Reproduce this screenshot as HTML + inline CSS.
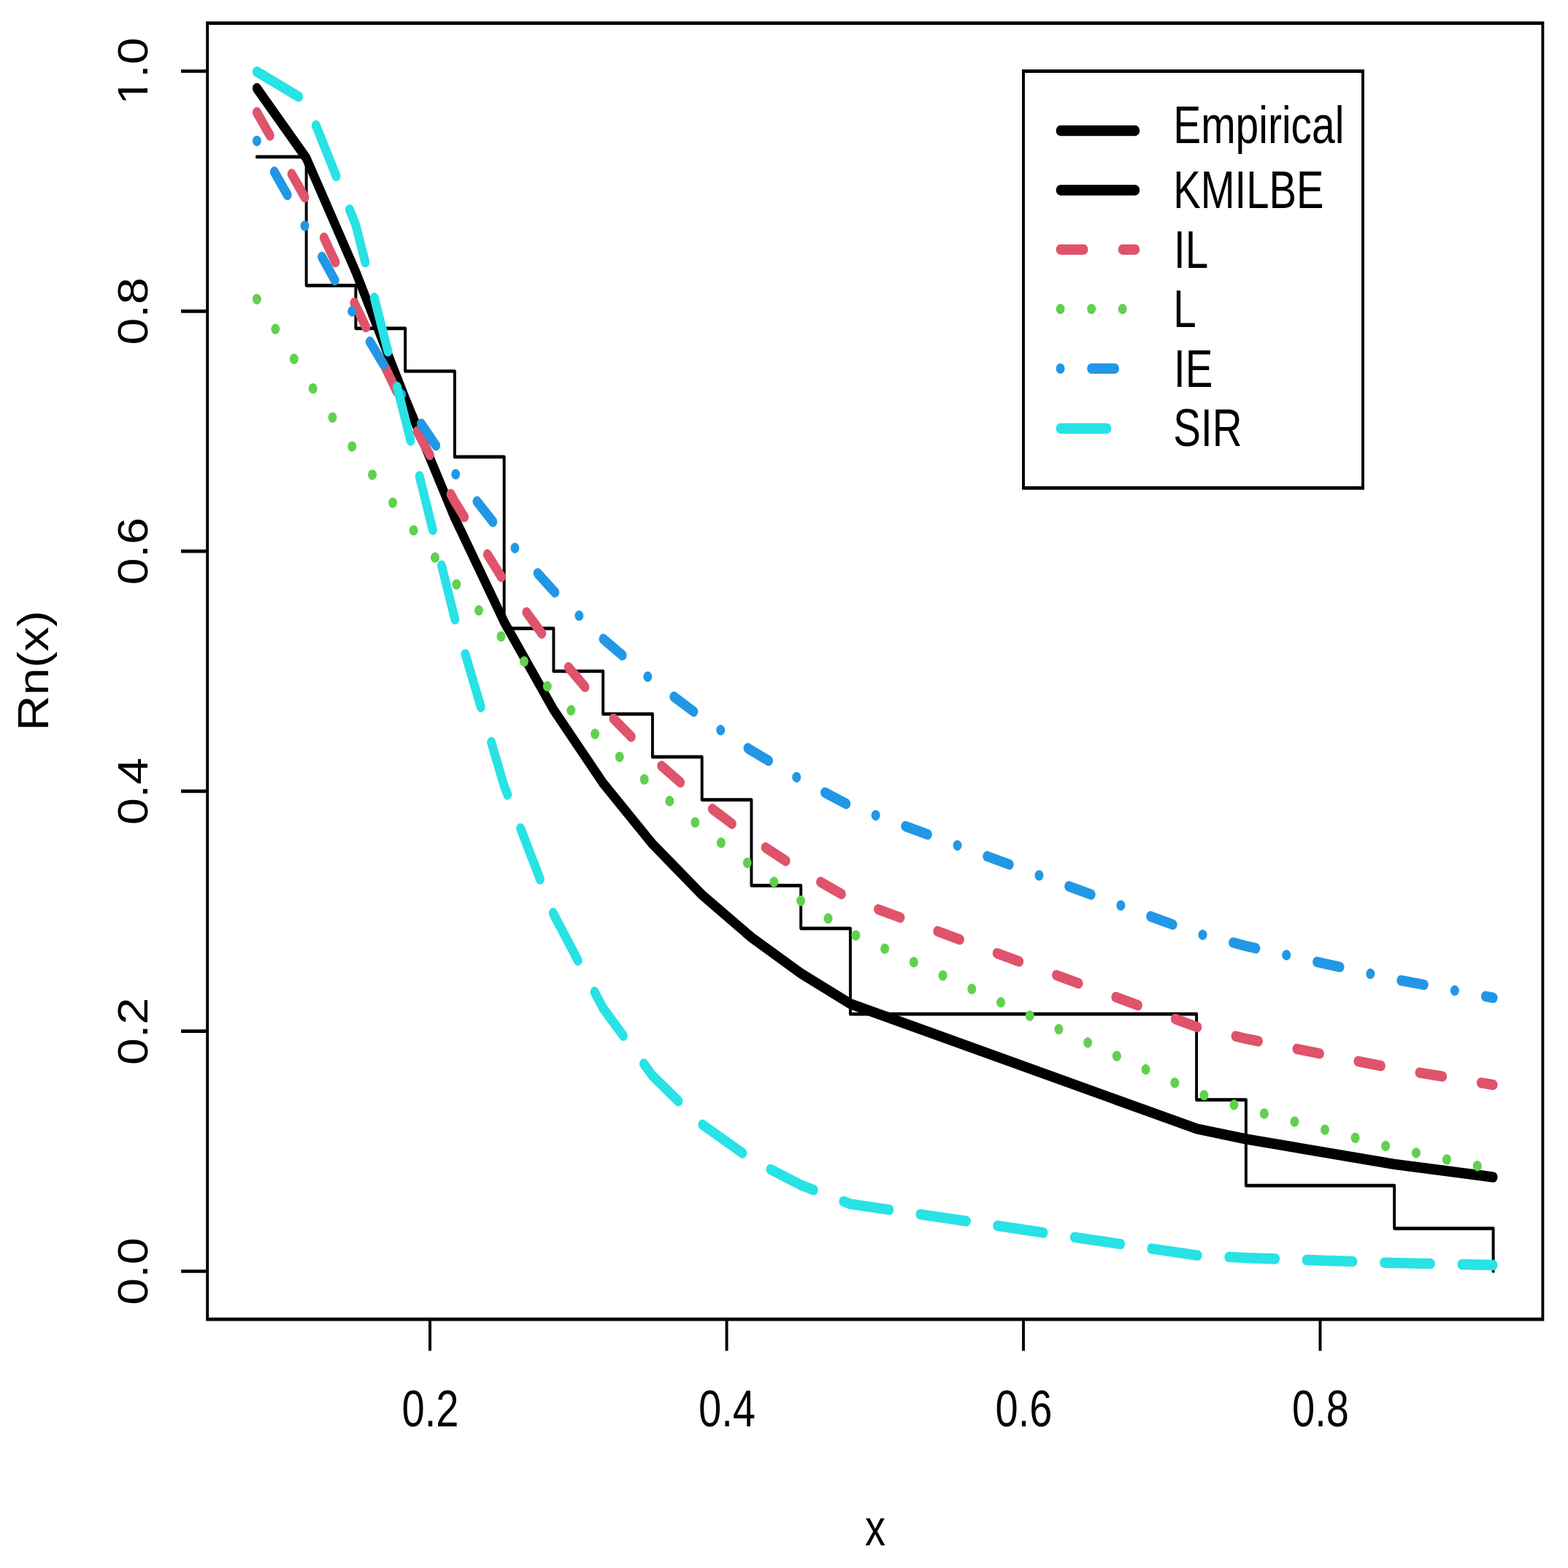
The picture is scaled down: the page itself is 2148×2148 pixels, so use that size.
<!DOCTYPE html><html><head><meta charset="utf-8"><title>Rn(x) plot</title><style>html,body{margin:0;padding:0;background:#fff;}svg{display:block;}</style></head><body>
<svg width="2148" height="2148" viewBox="0 0 2148 2148">
<rect width="2148" height="2148" fill="#fff"/>
<g transform="scale(1.193333,1.432000)">
<polyline points="294.87,150.09 351.64,150.09 351.64,273.09 408.41,273.09 408.41,314.1 465.19,314.1 465.19,355.1 521.96,355.1 521.96,437.1 578.74,437.1 578.74,601.11 635.51,601.11 635.51,642.11 692.28,642.11 692.28,683.11 749.06,683.11 749.06,724.11 805.83,724.11 805.83,765.11 862.6,765.11 862.6,847.12 919.38,847.12 919.38,888.12 976.15,888.12 976.15,970.12 1373.57,970.12 1373.57,1052.12 1430.34,1052.12 1430.34,1134.13 1600.66,1134.13 1600.66,1175.13 1714.21,1175.13 1714.21,1216.13" fill="none" stroke="#000" stroke-width="3.3" stroke-linejoin="round" stroke-linecap="round"/>
<rect x="238.09" y="22.16" width="1532.89" height="1239.89" fill="none" stroke="#000" stroke-width="3.3"/>
<line x1="493.58" y1="1262.05" x2="493.58" y2="1292.25" stroke="#000" stroke-width="3.3"/>
<line x1="834.22" y1="1262.05" x2="834.22" y2="1292.25" stroke="#000" stroke-width="3.3"/>
<line x1="1174.86" y1="1262.05" x2="1174.86" y2="1292.25" stroke="#000" stroke-width="3.3"/>
<line x1="1515.5" y1="1262.05" x2="1515.5" y2="1292.25" stroke="#000" stroke-width="3.3"/>
<line x1="207.89" y1="1216.13" x2="238.09" y2="1216.13" stroke="#000" stroke-width="3.3"/>
<line x1="207.89" y1="986.52" x2="238.09" y2="986.52" stroke="#000" stroke-width="3.3"/>
<line x1="207.89" y1="756.91" x2="238.09" y2="756.91" stroke="#000" stroke-width="3.3"/>
<line x1="207.89" y1="527.3" x2="238.09" y2="527.3" stroke="#000" stroke-width="3.3"/>
<line x1="207.89" y1="297.7" x2="238.09" y2="297.7" stroke="#000" stroke-width="3.3"/>
<line x1="207.89" y1="68.09" x2="238.09" y2="68.09" stroke="#000" stroke-width="3.3"/>
<polyline points="294.87,84.5 351.64,151.32 408.41,260.1 465.19,381.21 521.96,495.3 578.74,594.91 635.51,679.02 692.28,749.11 749.06,807.39 805.83,855.98 862.6,896.71 919.38,931.08 976.15,960.28 1373.57,1079.74 1430.34,1089.68 1600.66,1113.72 1714.21,1126.11" fill="none" stroke="#000" stroke-width="10" stroke-linejoin="round" stroke-linecap="round"/>
<polyline points="294.87,107.46 351.64,191.24 408.41,292.61 465.19,391.31 521.96,479.66 578.74,556.15 635.51,621.59 692.28,677.46 749.06,725.28 805.83,766.41 862.6,802 919.38,832.98 976.15,860.12 1373.57,982.34 1430.34,993.67 1600.66,1022.24 1714.21,1037.74" fill="none" stroke="#DF536B" stroke-width="10" stroke-dasharray="26.754 44.590" stroke-linejoin="round" stroke-linecap="round"/>
<polyline points="294.87,286.16 351.64,362.2 408.41,432.45 465.19,497.3 521.96,557.11 578.74,612.24 635.51,663 692.28,709.73 749.06,752.7 805.83,792.2 862.6,828.48 919.38,861.79 976.15,892.35 1373.57,1045.49 1430.34,1060.59 1600.66,1098.52 1714.21,1118.64" fill="none" stroke="#61D04F" stroke-width="10" stroke-dasharray="0.001 35.671" stroke-linejoin="round" stroke-linecap="round"/>
<polyline points="294.87,134.83 351.64,218.55 408.41,304.43 465.19,383.11 521.96,452.46 578.74,512.83 635.51,565.32 692.28,611.11 749.06,651.24 805.83,686.62 862.6,717.99 919.38,745.97 976.15,771.05 1373.57,892.78 1430.34,904.99 1600.66,936.7 1714.21,954.5" fill="none" stroke="#2297E6" stroke-width="10" stroke-dasharray="0.001 35.671 26.754 35.672" stroke-linejoin="round" stroke-linecap="round"/>
<polyline points="294.87,68.63 351.64,96.86 408.41,215.26 465.19,400.82 521.96,591.36 578.74,751.79 635.51,874.53 692.28,964.37 749.06,1029.06 805.83,1075.54 862.6,1109.13 919.38,1133.65 976.15,1151.75 1373.57,1200.89 1430.34,1203.3 1600.66,1208.18 1714.21,1210.18" fill="none" stroke="#28E2E5" stroke-width="10" stroke-dasharray="53.508 35.672" stroke-linejoin="round" stroke-linecap="round"/>
<rect x="1174.86" y="68.09" width="389.66" height="398.74" fill="#fff" stroke="#000" stroke-width="3.3"/>
<line x1="1217.26" y1="125" x2="1303.32" y2="125" stroke="#000" stroke-width="10" stroke-linecap="round"/>
<line x1="1217.26" y1="181.91" x2="1303.32" y2="181.91" stroke="#000" stroke-width="10" stroke-linecap="round"/>
<line x1="1217.26" y1="238.69" x2="1303.32" y2="238.69" stroke="#DF536B" stroke-width="10" stroke-linecap="round" stroke-dasharray="26.754 44.590"/>
<line x1="1217.26" y1="295.6" x2="1303.32" y2="295.6" stroke="#61D04F" stroke-width="10" stroke-linecap="round" stroke-dasharray="0.001 35.671"/>
<line x1="1217.26" y1="352.58" x2="1303.32" y2="352.58" stroke="#2297E6" stroke-width="10" stroke-linecap="round" stroke-dasharray="0.001 35.671 26.754 35.672"/>
<line x1="1217.26" y1="409.92" x2="1303.32" y2="409.92" stroke="#28E2E5" stroke-width="10" stroke-linecap="round" stroke-dasharray="53.508 35.672"/>
</g>
<text transform="translate(589.5,1954.3) scale(0.802,1)" text-anchor="middle" font-size="69.9" font-family="Liberation Sans, Arial, Helvetica, sans-serif">0.2</text>
<text transform="translate(996,1954.3) scale(0.802,1)" text-anchor="middle" font-size="69.9" font-family="Liberation Sans, Arial, Helvetica, sans-serif">0.4</text>
<text transform="translate(1402.5,1954.3) scale(0.802,1)" text-anchor="middle" font-size="69.9" font-family="Liberation Sans, Arial, Helvetica, sans-serif">0.6</text>
<text transform="translate(1809,1954.3) scale(0.802,1)" text-anchor="middle" font-size="69.9" font-family="Liberation Sans, Arial, Helvetica, sans-serif">0.8</text>
<text transform="translate(202.4,1741.5) rotate(-90) scale(1.146,1)" text-anchor="middle" font-size="58" font-family="Liberation Sans, Arial, Helvetica, sans-serif">0.0</text>
<text transform="translate(202.4,1412.7) rotate(-90) scale(1.146,1)" text-anchor="middle" font-size="58" font-family="Liberation Sans, Arial, Helvetica, sans-serif">0.2</text>
<text transform="translate(202.4,1083.9) rotate(-90) scale(1.146,1)" text-anchor="middle" font-size="58" font-family="Liberation Sans, Arial, Helvetica, sans-serif">0.4</text>
<text transform="translate(202.4,755.1) rotate(-90) scale(1.146,1)" text-anchor="middle" font-size="58" font-family="Liberation Sans, Arial, Helvetica, sans-serif">0.6</text>
<text transform="translate(202.4,426.3) rotate(-90) scale(1.146,1)" text-anchor="middle" font-size="58" font-family="Liberation Sans, Arial, Helvetica, sans-serif">0.8</text>
<text transform="translate(202.4,97.5) rotate(-90) scale(1.146,1)" text-anchor="middle" font-size="58" font-family="Liberation Sans, Arial, Helvetica, sans-serif">1.0</text>
<rect x="196.6" y="109" width="6" height="11.9" fill="#fff"/>
<rect x="196.6" y="127.1" width="6" height="12.6" fill="#fff"/>
<text transform="translate(1199,2117) scale(0.802,1)" text-anchor="middle" font-size="69.9" font-family="Liberation Sans, Arial, Helvetica, sans-serif">x</text>
<text transform="translate(65.8,918.8) rotate(-90) scale(1.144,1)" text-anchor="middle" font-size="59" font-family="Liberation Sans, Arial, Helvetica, sans-serif">Rn(x)</text>
<text transform="translate(1607.13,195.9) scale(0.786,1)" font-size="72.5" font-family="Liberation Sans, Arial, Helvetica, sans-serif">Empirical</text>
<text transform="translate(1607.19,284.8) scale(0.776,1)" font-size="72.5" font-family="Liberation Sans, Arial, Helvetica, sans-serif">KMILBE</text>
<text transform="translate(1608.08,366.9) scale(0.78,1)" font-size="72.5" font-family="Liberation Sans, Arial, Helvetica, sans-serif">IL</text>
<text transform="translate(1607.16,448.3) scale(0.78,1)" font-size="72.5" font-family="Liberation Sans, Arial, Helvetica, sans-serif">L</text>
<text transform="translate(1608.08,529.9) scale(0.78,1)" font-size="72.5" font-family="Liberation Sans, Arial, Helvetica, sans-serif">IE</text>
<text transform="translate(1607.23,611.4) scale(0.78,1)" font-size="72.5" font-family="Liberation Sans, Arial, Helvetica, sans-serif">SIR</text>
</svg></body></html>
